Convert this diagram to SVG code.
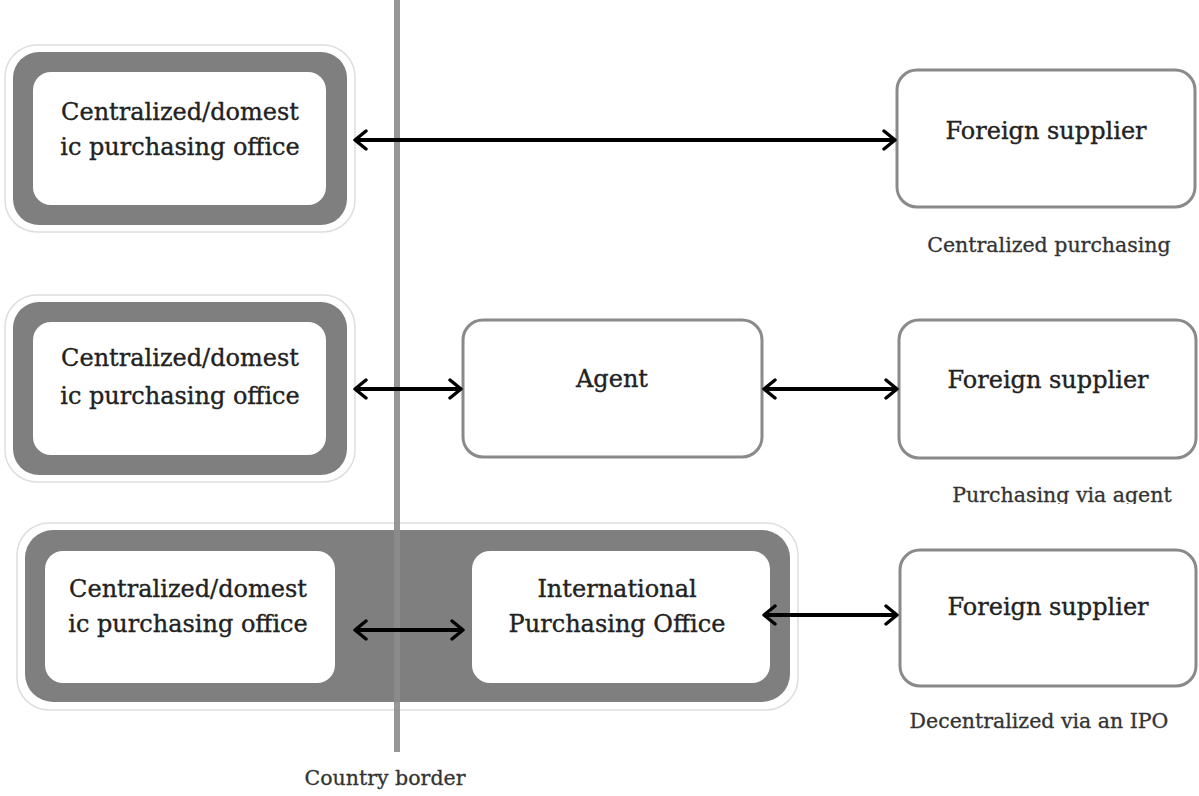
<svg xmlns="http://www.w3.org/2000/svg" width="1199" height="796" viewBox="0 0 1199 796">
  <style>
    .halo { fill: #ffffff; stroke: #dedede; stroke-width: 1.5; }
    .frame { fill: #7f7f7f; }
    .inner { fill: #ffffff; }
    .box { fill: #ffffff; stroke: #8a8a8a; stroke-width: 3; }
    .lbl { font-family: "DejaVu Serif", "Liberation Serif", serif; font-size: 24px; fill: #222222; stroke: #222222; stroke-width: 0.35; text-anchor: middle; }
    .cap { font-family: "DejaVu Serif", "Liberation Serif", serif; font-size: 20.5px; fill: #333333; stroke: #333333; stroke-width: 0.3; text-anchor: middle; }
    .link { stroke: #000000; stroke-width: 4; fill: none; marker-start: url(#head); marker-end: url(#head); }
  </style>
  <defs>
    <marker id="head" viewBox="0 0 16 22" refX="14" refY="11" markerWidth="16" markerHeight="22" markerUnits="userSpaceOnUse" orient="auto-start-reverse">
      <path d="M3,2 L14,11 L3,20" fill="none" stroke="#000" stroke-width="3.4" stroke-linecap="round" stroke-linejoin="round"/>
    </marker>
    <clipPath id="capclip"><rect x="880" y="470" width="319" height="34"/></clipPath>
  </defs>

  <rect width="1199" height="796" fill="#ffffff"/>

  <!-- Row 1: centralized purchasing -->
  <g id="domestic-office-1">
    <rect class="halo" x="5" y="45" width="350" height="187" rx="32"/>
    <rect class="frame" x="13" y="52" width="334" height="173" rx="26"/>
    <rect class="inner" x="33" y="72" width="293" height="133" rx="18"/>
    <text class="lbl" x="180" y="120">Centralized/domest</text>
    <text class="lbl" x="180" y="155">ic purchasing office</text>
  </g>
  <g id="supplier-1">
    <rect class="box" x="897" y="70" width="298" height="137" rx="20"/>
    <text class="lbl" x="1046" y="139">Foreign supplier</text>
  </g>

  <!-- Row 2: purchasing via agent -->
  <g id="domestic-office-2">
    <rect class="halo" x="5" y="295" width="350" height="187" rx="32"/>
    <rect class="frame" x="13" y="302" width="334" height="173" rx="26"/>
    <rect class="inner" x="33" y="322" width="293" height="133" rx="18"/>
    <text class="lbl" x="180" y="366">Centralized/domest</text>
    <text class="lbl" x="180" y="404">ic purchasing office</text>
  </g>
  <g id="agent">
    <rect class="box" x="463" y="320" width="299" height="137" rx="20"/>
    <text class="lbl" x="612" y="387">Agent</text>
  </g>
  <g id="supplier-2">
    <rect class="box" x="899" y="320" width="297" height="138" rx="20"/>
    <text class="lbl" x="1048" y="388">Foreign supplier</text>
  </g>

  <!-- Row 3: decentralized via an IPO -->
  <g id="ipo-group">
    <rect class="halo" x="17" y="523" width="781" height="187" rx="32"/>
    <rect class="frame" x="25" y="530" width="765" height="172" rx="28"/>
    <g id="domestic-office-3">
      <rect class="inner" x="45" y="551" width="290" height="132" rx="18"/>
      <text class="lbl" x="188" y="597">Centralized/domest</text>
      <text class="lbl" x="188" y="632">ic purchasing office</text>
    </g>
    <g id="ipo">
      <rect class="inner" x="472" y="551" width="298" height="132" rx="18"/>
      <text class="lbl" x="617" y="597">International</text>
      <text class="lbl" x="617" y="632">Purchasing Office</text>
    </g>
  </g>
  <g id="supplier-3">
    <rect class="box" x="900" y="550" width="296" height="136" rx="20"/>
    <text class="lbl" x="1048" y="615">Foreign supplier</text>
  </g>

  <!-- Country border -->
  <g id="border">
    <rect x="394" y="0" width="6" height="752" fill="#8c8c8c" opacity="0.9"/>
    <text class="cap" x="385" y="785">Country border</text>
  </g>

  <!-- Connectors -->
  <g id="connectors">
    <line class="link" x1="355" y1="140" x2="895" y2="140"/>
    <line class="link" x1="355" y1="389" x2="461" y2="389"/>
    <line class="link" x1="764" y1="389" x2="897" y2="389"/>
    <line class="link" x1="355" y1="630" x2="463" y2="630"/>
    <line class="link" x1="764" y1="615" x2="897" y2="615"/>
  </g>

  <!-- Captions -->
  <g id="captions">
    <text class="cap" x="1049" y="252">Centralized purchasing</text>
    <text class="cap" x="1062" y="502" clip-path="url(#capclip)">Purchasing via agent</text>
    <text class="cap" x="1039" y="728">Decentralized via an IPO</text>
  </g>
</svg>
